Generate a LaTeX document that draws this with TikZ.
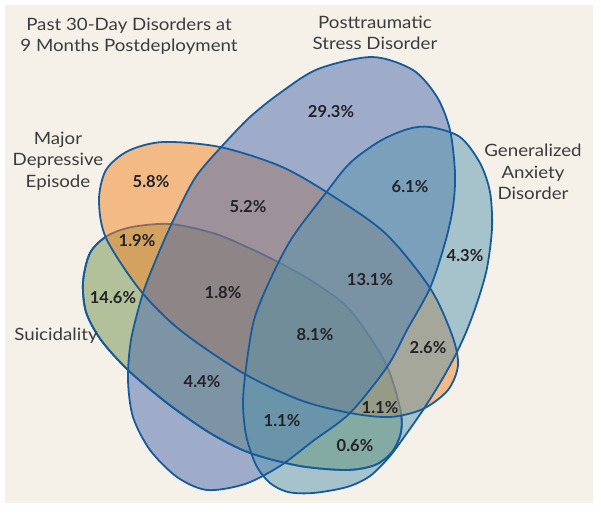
\documentclass[tikz,border=0pt]{standalone}
\usepackage{fontspec}
\setmainfont{Lato}
\newfontfamily\lblfont[FakeStretch=1.1]{Lato}
\definecolor{bg}{HTML}{F6F1E8}
\definecolor{cOrange}{HTML}{F48526}
\definecolor{cBlue}{HTML}{4869AE}
\definecolor{cGreen}{HTML}{70934E}
\definecolor{cTeal}{HTML}{5895AE}
\definecolor{cLine}{HTML}{165C9C}
\definecolor{cText}{HTML}{3C3C3C}
\definecolor{cNum}{HTML}{222228}
\begin{document}
\begin{tikzpicture}[x=1pt,y=-1pt,
  setfill/.style={fill opacity=0.5},
  outline/.style={draw=cLine,line width=1.8pt},
  lbl/.style={text=cText,align=center,font=\lblfont\fontsize{17}{21.5}\selectfont,inner sep=0pt},
  pct/.style={text=cNum,font=\bfseries\fontsize{16.5}{18}\selectfont,inner sep=0pt}]
\def\shapeOrange{plot[smooth cycle] coordinates{(99,200) (106,170) (128,151) (163,142) (220,147) (280,166) (328,193) (385,233) (430,288) (452,335) (458,365) (448,390) (423,409) (390,417) (350,413) (300,400) (243,373) (180,330) (140,290) (106,238)}}
\def\shapeBlue{plot[smooth cycle] coordinates{(372,57) (413,70) (437,97) (450,130) (455,173) (453,207) (445,243) (430,288) (407,330) (387,367) (350,413) (313,441) (280,466) (245,484) (207,490) (177,477) (150,450) (133,417) (128,380) (131,340) (143,293) (157,257) (172,223) (195,178) (223,145) (250,117) (280,93) (318,69)}}
\def\shapeGreen{plot[smooth cycle] coordinates{(83,282) (90,253) (107,236) (132,227) (170,224) (213,233) (247,247) (280,263) (315,283) (350,310) (385,362) (400,408) (401,432) (392,452) (375,465) (347,470) (300,466) (250,453) (210,433) (167,403) (128,370) (101,340) (86,312)}}
\def\shapeTeal{plot[smooth cycle] coordinates{(430,127) (460,137) (480,163) (490,192) (492,228) (487,268) (478,300) (467,330) (455,356) (440,383) (423,410) (407,433) (390,456) (370,476) (347,487) (313,493) (288,492) (270,483) (256,465) (246,435) (243,403) (246,368) (254,320) (270,280) (292,238) (325,194) (350,163) (380,141) (408,129)}}
\useasboundingbox (0,0) rectangle (601,512);
\fill[white] (0,0) rectangle (601,512);
\fill[bg] (5,5) rectangle (593,503);
% layers
\fill[cGreen,setfill] \shapeGreen;
\draw[outline] \shapeGreen;
\fill[cOrange,setfill] \shapeOrange;
\fill[cBlue,setfill] \shapeBlue;
\fill[cTeal,setfill] \shapeTeal;
\begin{scope}[even odd rule]
  \clip (0,0) rectangle (601,512) \shapeOrange;
  \draw[outline] \shapeGreen;
\end{scope}
\draw[outline] \shapeOrange;
\draw[outline] \shapeBlue;
\draw[outline] \shapeTeal;
% labels
\node[lbl] (title) at (129,36) {Past 30-Day Disorders at\\9 Months Postdeployment};
\node[lbl] (ptsd) at (375,33) {Posttraumatic\\Stress Disorder};
\node[lbl] (mde) at (58,161) {Major\\Depressive\\Episode};
\node[lbl] (gad) at (533,172) {Generalized\\Anxiety\\Disorder};
\node[lbl] (suic) at (56,336) {Suicidality};
% percentages
\node[pct] (p1) at (331,112) {29.3\%};
\node[pct] (p2) at (151,182) {5.8\%};
\node[pct] (p3) at (410,187) {6.1\%};
\node[pct] (p4) at (248,207) {5.2\%};
\node[pct] (p5) at (465,256) {4.3\%};
\node[pct] (p6) at (137,241) {1.9\%};
\node[pct] (p7) at (113,298) {14.6\%};
\node[pct] (p8) at (223,293) {1.8\%};
\node[pct] (p9) at (370,280) {13.1\%};
\node[pct] (p10) at (315,335) {8.1\%};
\node[pct] (p11) at (428,348) {2.6\%};
\node[pct] (p12) at (202,382) {4.4\%};
\node[pct] (p13) at (282,421) {1.1\%};
\node[pct] (p14) at (380,408) {1.1\%};
\node[pct] (p15) at (355,446) {0.6\%};
\end{tikzpicture}
\end{document}
